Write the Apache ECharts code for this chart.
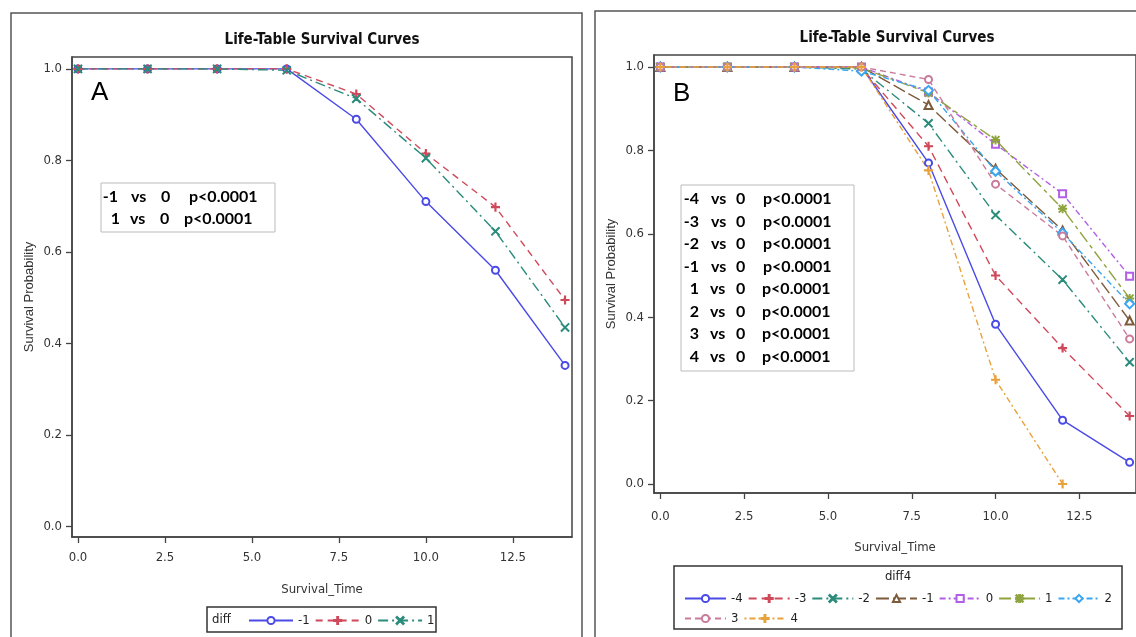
<!DOCTYPE html>
<html><head><meta charset="utf-8">
<script src="https://cdn.jsdelivr.net/npm/echarts@6/dist/echarts.min.js"></script>
<style>html,body{margin:0;padding:0;background:#fff;}#c{width:1136px;height:637px;}</style>
</head><body><div id="c"></div>
<script>
// ---------- data ----------
const times = [0, 2, 4, 6, 8, 10, 12, 14];
const xTicks = [0, 2.5, 5, 7.5, 10, 12.5];
const yTicks = [0, 0.2, 0.4, 0.6, 0.8, 1.0];

// Panel A (diff)
const aNames = ['-1', '0', '1'];
const aM1 = [1, 1, 1, 1, 0.89, 0.71, 0.56, 0.352];
const a0  = [1, 1, 1, 1, 0.945, 0.815, 0.698, 0.495];
const a1  = [1, 1, 1, 0.997, 0.935, 0.805, 0.645, 0.435];

// Panel B (diff4)
const bNames = ['-4', '-3', '-2', '-1', '0', '1', '2', '3', '4'];
const bM4 = [1, 1, 1, 1, 0.77, 0.383, 0.153, 0.052];
const bM3 = [1, 1, 1, 0.998, 0.81, 0.5, 0.326, 0.163];
const bM2 = [1, 1, 1, 0.995, 0.865, 0.645, 0.49, 0.292];
const bM1 = [1, 1, 1, 1, 0.909, 0.756, 0.608, 0.392];
const b0  = [1, 1, 1, 1, 0.94, 0.815, 0.696, 0.498];
const b1  = [1, 1, 1, 0.998, 0.938, 0.825, 0.66, 0.445];
const b2  = [1, 1, 1, 0.99, 0.944, 0.75, 0.602, 0.432];
const b3  = [1, 1, 1, 1, 0.97, 0.719, 0.595, 0.348];
const b4  = [1, 1, 1, 1, 0.752, 0.25, 0.0];

const pTextA = [['-1', 'vs', '0', 'p<0.0001'], ['1', 'vs', '0', 'p<0.0001']];
const pTextB = [
  ['-4', 'vs', '0', 'p<0.0001'], ['-3', 'vs', '0', 'p<0.0001'],
  ['-2', 'vs', '0', 'p<0.0001'], ['-1', 'vs', '0', 'p<0.0001'],
  ['1', 'vs', '0', 'p<0.0001'], ['2', 'vs', '0', 'p<0.0001'],
  ['3', 'vs', '0', 'p<0.0001'], ['4', 'vs', '0', 'p<0.0001']
];

// ---------- styles ----------
const NARROW = '"Liberation Sans Narrow","DejaVu Sans Condensed","Roboto Condensed",sans-serif';
const COL = {blue:'#4a4ae6', red:'#d0495a', teal:'#2b8c7c', brown:'#7d5b3b', purple:'#b25ee6',
  olive:'#8fa33f', cyan:'#3aa6f2', pink:'#c87b9b', orange:'#e9a23b'};
const PLUS = 'path://M4.35,0H5.65V4.35H10V5.65H5.65V10H4.35V5.65H0V4.35H4.35Z';
const XMARK = 'path://M0.8,0L5,4.2L9.2,0L10,0.8L5.8,5L10,9.2L9.2,10L5,5.8L0.8,10L0,9.2L4.2,5L0,0.8Z';
const STAR = 'path://M4.5,0H5.5V10H4.5Z M0,4.5H10V5.5H0Z M1,0.3L9.7,9L9,9.7L0.3,1Z M9,0.3L9.7,1L1,9.7L0.3,9Z';

function pairs(v){ return v.map((y,i)=>[times[i], y]); }
function mk(name, data, color, symbol, size, dash, gi){
  return {
    type:'line', name: name, data: pairs(data), xAxisIndex: gi, yAxisIndex: gi,
    symbol: symbol, symbolSize: size, showSymbol: true, showAllSymbol: true,
    lineStyle: {color: color, width: 1.4, type: dash},
    itemStyle: {color: color, borderColor: color, borderWidth: 1.1},
    animation: false, z: 3
  };
}

const series = [
  mk(aNames[0], aM1, COL.blue, 'emptyCircle', 7, 'solid', 0),
  mk(aNames[1], a0, COL.red, PLUS, 8, [7,5], 0),
  mk(aNames[2], a1, COL.teal, XMARK, 8, [10,4,2,4], 0),

  mk('B:'+bNames[0], bM4, COL.blue, 'emptyCircle', 7, 'solid', 1),
  mk('B:'+bNames[1], bM3, COL.red, PLUS, 8, [8,5], 1),
  mk('B:'+bNames[2], bM2, COL.teal, XMARK, 8, [10,4,2,4], 1),
  mk('B:'+bNames[3], bM1, COL.brown, 'emptyTriangle', 8, [13,4], 1),
  mk('B:'+bNames[4], b0, COL.purple, 'emptyRect', 7, [6,3,2,3], 1),
  mk('B:'+bNames[5], b1, COL.olive, STAR, 8, [12,4,4,4], 1),
  mk('B:'+bNames[6], b2, COL.cyan, 'emptyDiamond', 9, [6,3,2,3], 1),
  mk('B:'+bNames[7], b3, COL.pink, 'emptyCircle', 7, [6,4], 1),
  mk('B:'+bNames[8], b4, COL.orange, PLUS, 8, [2,3,6,3], 1)
];

function xAx(gi, min, max, gap, margin){
  return {
    type:'value', gridIndex: gi, min: min, max: max,
    name:'Survival_Time', nameLocation:'middle', nameGap: gap,
    nameTextStyle:{fontFamily: NARROW, fontSize: 13, color:'#333'},
    axisLine:{show:true, onZero:false, lineStyle:{color:'#444', width:1.5}},
    axisTick:{show:true, customValues: xTicks, length:6, lineStyle:{color:'#444', width:1.3}},
    axisLabel:{show:true, customValues: xTicks, margin:margin, color:'#333', fontFamily: NARROW, fontSize: 13,
      formatter: v => Number(v).toFixed(1)},
    splitLine:{show:false}
  };
}
function yAx(gi, min, max, gap){
  return {
    type:'value', gridIndex: gi, min: min, max: max,
    name:'Survival Probability', nameLocation:'middle', nameGap: gap,
    nameTextStyle:{fontFamily:'"Liberation Sans",Arial,sans-serif', fontSize: 13, color:'#333'},
    axisLine:{show:true, onZero:false, lineStyle:{color:'#444', width:1.5}},
    axisTick:{show:true, customValues: yTicks, length:6, lineStyle:{color:'#444', width:1.3}},
    axisLabel:{show:true, customValues: yTicks, margin:10, color:'#333', fontFamily: NARROW, fontSize: 13,
      formatter: v => Number(v).toFixed(1)},
    splitLine:{show:false}
  };
}

// ---------- graphics (frames, titles, p-value boxes, legend boxes) ----------
const g = [];
g.push({type:'rect', shape:{x:11, y:13, width:571, height:640}, style:{fill:'none', stroke:'#555', lineWidth:1.5}, silent:true});
g.push({type:'rect', shape:{x:595, y:11, width:560, height:640}, style:{fill:'none', stroke:'#555', lineWidth:1.5}, silent:true});
g.push({type:'text', x:322, y:40, style:{text:'Life-Table Survival Curves', font:'bold 15px '+NARROW, fill:'#111', textAlign:'center', textVerticalAlign:'middle'}});
g.push({type:'text', x:897, y:38, style:{text:'Life-Table Survival Curves', font:'bold 15px '+NARROW, fill:'#111', textAlign:'center', textVerticalAlign:'middle'}});
g.push({type:'text', x:91, y:93, style:{text:'A', font:'26px "Liberation Sans",Arial,sans-serif', fill:'#000', textAlign:'left', textVerticalAlign:'middle'}});
g.push({type:'text', x:673, y:94, style:{text:'B', font:'26px "Liberation Sans",Arial,sans-serif', fill:'#000', textAlign:'left', textVerticalAlign:'middle'}});

// p-value box A
g.push({type:'rect', shape:{x:101, y:183, width:174, height:49}, style:{fill:'#fff', stroke:'#bbb', lineWidth:1}, z:10});
const colsA = [[118, 131, 161, 189], [120, 130, 160, 184]];
pTextA.forEach((row, r) => {
  const y = 197 + r*22;
  row.forEach((t, c) => {
    g.push({type:'text', x: colsA[r][c], y: y, z:11, style:{text:t, font:'bold 16px Lato,"Open Sans",sans-serif', fill:'#000',
      textAlign: c === 0 ? 'right' : 'left', textVerticalAlign:'middle'}});
  });
});
// p-value box B
g.push({type:'rect', shape:{x:681, y:185, width:173, height:186}, style:{fill:'#fff', stroke:'#bbb', lineWidth:1}, z:10});
pTextB.forEach((row, r) => {
  const y = 199 + r*22.5;
  const cols = r < 4 ? [699, 711, 736, 763] : [699, 710, 736, 762];
  row.forEach((t, c) => {
    g.push({type:'text', x: cols[c], y: y, z:11, style:{text:t, font:'bold 16px Lato,"Open Sans",sans-serif', fill:'#000',
      textAlign: c === 0 ? 'right' : 'left', textVerticalAlign:'middle'}});
  });
});

// legend boxes
g.push({type:'rect', shape:{x:207, y:607, width:229, height:25}, style:{fill:'#fff', stroke:'#333', lineWidth:1.5}, z:0});
g.push({type:'text', x:212, y:619.5, style:{text:'diff', font:'13px '+NARROW, fill:'#222', textAlign:'left', textVerticalAlign:'middle'}});
g.push({type:'rect', shape:{x:674, y:566, width:448, height:63}, style:{fill:'#fff', stroke:'#333', lineWidth:1.5}, z:0});
g.push({type:'text', x:898, y:577, style:{text:'diff4', font:'13px '+NARROW, fill:'#222', textAlign:'center', textVerticalAlign:'middle'}});

const legText = {fontFamily: NARROW, fontSize: 13, color:'#222', width: 13};

const option = {
  backgroundColor:'#fff',
  animation:false,
  grid:[
    {left:72, top:57, width:500, height:480, show:true, borderColor:'#444', borderWidth:1.5, containLabel:false},
    {left:654, top:55, width:487, height:438, show:true, borderColor:'#444', borderWidth:1.5, containLabel:false}
  ],
  xAxis:[ xAx(0, -0.172, 14.2, 46, 14), xAx(1, -0.19, 14.19, 48, 17) ],
  yAxis:[ yAx(0, -0.023, 1.026, 36), yAx(1, -0.0216, 1.0288, 36) ],
  legend:[
    {data: aNames, left:243, top:609, orient:'horizontal', itemWidth:44, itemHeight:9, itemGap:5,
      textStyle: Object.assign({}, legText, {width:14}), selectedMode:false},
    {data: bNames.slice(0,7).map(n=>'B:'+n), left:679, top:587, orient:'horizontal', itemWidth:41, itemHeight:9, itemGap:5,
      formatter: n => n.replace('B:',''), textStyle: legText, selectedMode:false},
    {data: bNames.slice(7).map(n=>'B:'+n), left:679, top:607, orient:'horizontal', itemWidth:41, itemHeight:9, itemGap:5,
      formatter: n => n.replace('B:',''), textStyle: legText, selectedMode:false}
  ],
  graphic: g,
  series: series
};

const chart = echarts.init(document.getElementById('c'), null, {renderer:'canvas'});
chart.setOption(option);
</script>
</body></html>
